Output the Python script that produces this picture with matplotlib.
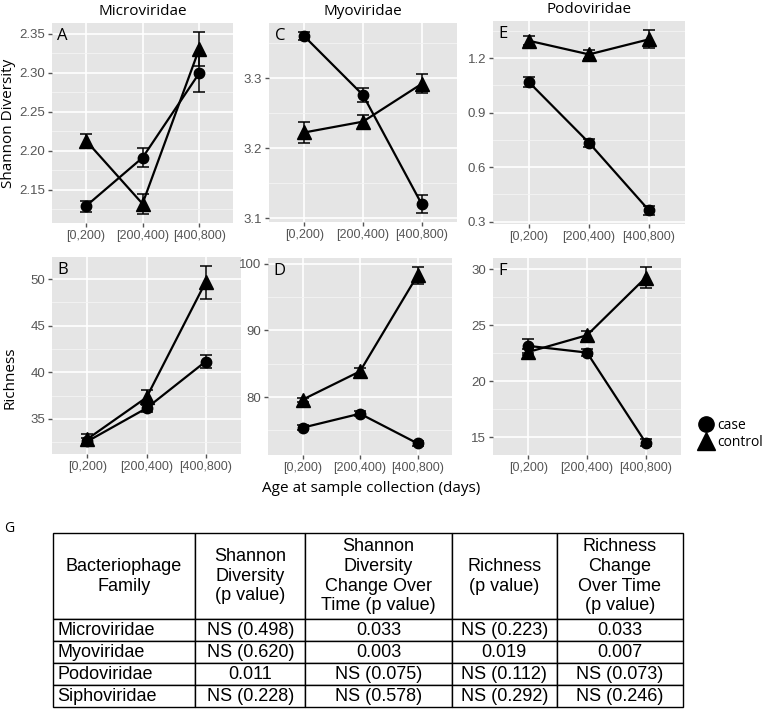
import matplotlib.pyplot as plt
import numpy as np
from matplotlib.lines import Line2D

# age groups (x axis of every panel)
ages = ['[0,200)', '[200,400)', '[400,800)']

# Shannon diversity: mean and standard error
micro_sh_case = [2.129, 2.191, 2.299]
micro_sh_case_err = [0.007, 0.0125, 0.024]
micro_sh_ctrl = [2.213, 2.132, 2.330]
micro_sh_ctrl_err = [0.0085, 0.013, 0.022]

myo_sh_case = [3.360, 3.276, 3.120]
myo_sh_case_err = [0.006, 0.010, 0.0125]
myo_sh_ctrl = [3.2225, 3.238, 3.292]
myo_sh_ctrl_err = [0.015, 0.010, 0.0135]

podo_sh_case = [1.067, 0.734, 0.362]
podo_sh_case_err = [0.027, 0.023, 0.024]
podo_sh_ctrl = [1.295, 1.220, 1.303]
podo_sh_ctrl_err = [0.025, 0.027, 0.050]

# Richness: mean and standard error
micro_ri_case = [32.6, 36.15, 41.15]
micro_ri_case_err = [0.4, 0.45, 0.66]
micro_ri_ctrl = [32.85, 37.3, 49.65]
micro_ri_ctrl_err = [0.55, 0.8, 1.75]

myo_ri_case = [75.4, 77.5, 73.05]
myo_ri_case_err = [0.4, 0.35, 0.4]
myo_ri_ctrl = [79.6, 83.85, 98.25]
myo_ri_ctrl_err = [0.3, 0.5, 1.25]

podo_ri_case = [23.15, 22.55, 14.5]
podo_ri_case_err = [0.6, 0.3, 0.3]
podo_ri_ctrl = [22.6, 24.1, 29.25]
podo_ri_ctrl_err = [0.3, 0.4, 0.95]

# y ticks per panel
ticks_A = [2.15, 2.20, 2.25, 2.30, 2.35]
ticks_C = [3.1, 3.2, 3.3]
ticks_E = [0.3, 0.6, 0.9, 1.2]
ticks_B = [35, 40, 45, 50]
ticks_D = [80, 90, 100]
ticks_F = [15, 20, 25, 30]

families = ['Microviridae', 'Myoviridae', 'Podoviridae']

# table G
table_cols = ['Bacteriophage\nFamily', 'Shannon\nDiversity\n(p value)',
              'Shannon\nDiversity\nChange Over\nTime (p value)',
              'Richness\n(p value)', 'Richness\nChange\nOver Time\n(p value)']
table_rows = ['Microviridae', 'Myoviridae', 'Podoviridae', 'Siphoviridae']
p_shannon = ['NS (0.498)', 'NS (0.620)', '0.011', 'NS (0.228)']
p_shannon_time = ['0.033', '0.003', 'NS (0.075)', 'NS (0.578)']
p_richness = ['NS (0.223)', '0.019', 'NS (0.112)', 'NS (0.292)']
p_richness_time = ['0.033', '0.007', 'NS (0.073)', 'NS (0.246)']

W, H = 762, 711
fig = plt.figure(figsize=(W / 100, H / 100), dpi=100)

label_font = 'Open Sans'
tick_font = 'Liberation Sans'


def px_axes(x0, y0, x1, y1):
    return fig.add_axes([x0 / W, 1 - y1 / H, (x1 - x0) / W, (y1 - y0) / H])


def panel(box, case, case_err, ctrl, ctrl_err, yticks, fmt, letter):
    ax = px_axes(*box)
    ax.set_facecolor('#E5E5E5')
    x = np.arange(len(ages))
    style = dict(color='black', lw=1.6, elinewidth=1.1, capsize=4.5, capthick=1.1)
    ax.errorbar(x, case, yerr=case_err, fmt='-o', ms=7.5, **style)
    ax.errorbar(x, ctrl, yerr=ctrl_err, fmt='-^', ms=10, **style)

    lo = min(np.min(np.subtract(case, case_err)), np.min(np.subtract(ctrl, ctrl_err)))
    hi = max(np.max(np.add(case, case_err)), np.max(np.add(ctrl, ctrl_err)))
    pad = 0.05 * (hi - lo)
    ax.set_ylim(lo - pad, hi + pad)
    ax.set_xlim(-0.6, len(ages) - 0.4)

    ax.set_xticks(x, ages)
    ax.set_yticks(yticks, [fmt % v for v in yticks])
    step = yticks[1] - yticks[0]
    minor = np.arange(yticks[0] - step / 2, yticks[-1] + step, step)
    minor = minor[(minor > lo - pad) & (minor < hi + pad)]
    ax.set_yticks(minor, minor=True)

    ax.set_axisbelow(True)
    ax.grid(which='major', color='white', lw=1.2)
    ax.grid(which='minor', axis='y', color='#F4F4F4', lw=0.6)
    ax.tick_params(which='minor', length=0)
    ax.tick_params(which='major', length=3, width=1, color='#555555',
                   labelcolor='#555555', labelsize=9, pad=2)
    ax.tick_params(axis='y', labelsize=9.5)
    for lab in ax.get_xticklabels() + ax.get_yticklabels():
        lab.set_family(tick_font)
    for s in ax.spines.values():
        s.set_visible(False)
    ax.text(0.03, 0.975, letter, transform=ax.transAxes, ha='left', va='top',
            fontsize=12, family=label_font)
    return ax


axA = panel((52, 23, 233, 223), micro_sh_case, micro_sh_case_err,
            micro_sh_ctrl, micro_sh_ctrl_err, ticks_A, '%.2f', 'A')
axC = panel((269, 23, 457, 222), myo_sh_case, myo_sh_case_err,
            myo_sh_ctrl, myo_sh_ctrl_err, ticks_C, '%.1f', 'C')
axE = panel((493, 21, 685, 224), podo_sh_case, podo_sh_case_err,
            podo_sh_ctrl, podo_sh_ctrl_err, ticks_E, '%.1f', 'E')
axB = panel((52, 257, 241, 454), micro_ri_case, micro_ri_case_err,
            micro_ri_ctrl, micro_ri_ctrl_err, ticks_B, '%d', 'B')
axD = panel((268, 258, 452, 455), myo_ri_case, myo_ri_case_err,
            myo_ri_ctrl, myo_ri_ctrl_err, ticks_D, '%d', 'D')
axF = panel((493, 258, 681, 455), podo_ri_case, podo_ri_case_err,
            podo_ri_ctrl, podo_ri_ctrl_err, ticks_F, '%d', 'F')

for ax, name in zip([axA, axC, axE], families):
    ax.set_title(name, fontsize=11, family=label_font, pad=6)

fig.text(9 / W, 1 - 123 / H, 'Shannon Diversity', rotation=90, ha='center', va='center',
         fontsize=11, family=label_font)
fig.text(10 / W, 1 - 378 / H, 'Richness', rotation=90, ha='center', va='center',
         fontsize=11, family=label_font)
fig.text(371 / W, 1 - 488 / H, 'Age at sample collection (days)', ha='center', va='center',
         fontsize=11, family=label_font)

handles = [Line2D([], [], color='black', marker='o', ls='none', ms=11),
           Line2D([], [], color='black', marker='^', ls='none', ms=13)]
fig.legend(handles, ['case', 'control'], loc='center left',
           bbox_to_anchor=(691 / W, 1 - 434 / H), frameon=False,
           handletextpad=0.2, labelspacing=0.1, borderpad=0, handlelength=1.2,
           prop=dict(family=label_font, size=10))

# table G
fig.text(4 / W, 1 - 528 / H, 'G', ha='left', va='center', fontsize=10, family=label_font)
tax = px_axes(53, 533, 683, 707)
tax.axis('off')
cells = [[f, a, b, c, d] for f, a, b, c, d in
         zip(table_rows, p_shannon, p_shannon_time, p_richness, p_richness_time)]
col_w = [142, 110, 146, 105, 126]
tbl = tax.table(cellText=cells, colLabels=table_cols, bbox=[0, 0, 1, 1],
                cellLoc='center', colWidths=[w / sum(col_w) for w in col_w])
tbl.auto_set_font_size(False)
for (r, c), cell in tbl.get_celld().items():
    cell.set_linewidth(1.0)
    cell.set_edgecolor('black')
    cell.set_height(85 if r == 0 else 21.5)
    cell.get_text().set_fontsize(13)
    cell.get_text().set_family(tick_font)
    if r > 0 and c == 0:
        cell.get_text().set_ha('left')
        cell.PAD = 0.03

fig.savefig('out.png', dpi=100, facecolor='white')
